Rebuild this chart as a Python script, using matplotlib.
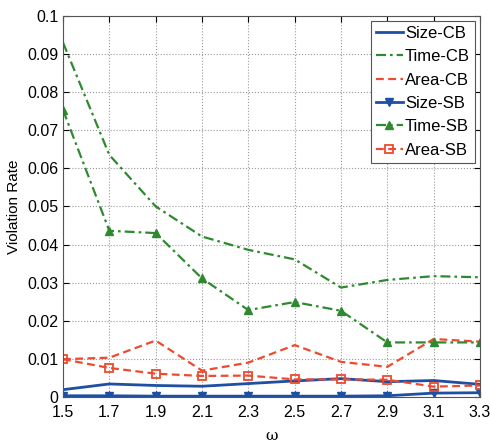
import numpy as np
import matplotlib
matplotlib.use("Agg")
import matplotlib.pyplot as plt

plt.rcParams["font.family"] = ["Liberation Sans", "DejaVu Sans"]

# ── Data ───────────────────────────────────────────────────────────────────
omega = [1.5, 1.7, 1.9, 2.1, 2.3, 2.5, 2.7, 2.9, 3.1, 3.3]

size_cb = [0.0019, 0.0034, 0.0030, 0.0028, 0.0035, 0.0042, 0.0048, 0.0040, 0.0043, 0.0033]
time_cb = [0.0930, 0.0635, 0.0500, 0.0421, 0.0386, 0.0361, 0.0287, 0.0307, 0.0317, 0.0314]
area_cb = [0.0099, 0.0103, 0.0148, 0.0069, 0.0090, 0.0136, 0.0092, 0.0079, 0.0152, 0.0145]
size_sb = [0.0003, 0.0003, 0.0002, 0.0002, 0.0002, 0.0002, 0.0002, 0.0003, 0.0010, 0.0011]
time_sb = [0.0753, 0.0436, 0.0430, 0.0311, 0.0228, 0.0249, 0.0226, 0.0143, 0.0143, 0.0143]
area_sb = [0.0099, 0.0076, 0.0061, 0.0055, 0.0056, 0.0046, 0.0046, 0.0045, 0.0027, 0.0030]

BLUE  = "#1d4fa3"
GREEN = "#2f8a2f"
RED   = "#ee4a2e"
DASH    = (0, (3.5, 2.0))
DASHDOT = (0, (4.5, 1.8, 1.2, 1.8))

fig = plt.figure(figsize=(4.9, 4.42), dpi=100)
ax = fig.add_axes([0.1286, 0.102, 0.851, 0.862])

ax.plot(omega, size_cb, color=BLUE, lw=2.0, ls="-", label="Size-CB")
ax.plot(omega, time_cb, color=GREEN, lw=1.6, ls=DASHDOT, label="Time-CB")
ax.plot(omega, area_cb, color=RED, lw=1.6, ls=DASH, label="Area-CB")
ax.plot(omega, size_sb, color=BLUE, lw=2.0, ls="-", marker="v", ms=6,
        mfc=BLUE, mec=BLUE, label="Size-SB")
ax.plot(omega, time_sb, color=GREEN, lw=1.6, ls=DASHDOT, marker="^", ms=6,
        mfc=GREEN, mec=GREEN, label="Time-SB")
ax.plot(omega, area_sb, color=RED, lw=1.6, ls=DASH, marker="s", ms=6,
        mfc="none", mec=RED, mew=1.3, label="Area-SB")

ax.set_xlim(1.5, 3.3)
ax.set_ylim(0, 0.1)
ax.set_xticks(omega)
ax.set_xticklabels([f"{v:.1f}" for v in omega])
ax.set_yticks(np.arange(0, 0.101, 0.01))
ax.set_yticklabels(["0"] + [f"{v:.2f}" for v in np.arange(0.01, 0.1, 0.01)] + ["0.1"])
ax.tick_params(direction="in", labelsize=11.5, length=4, top=True, right=True)
ax.tick_params(axis="x", pad=6)
ax.grid(True, ls=":", color="#9a9a9a", lw=0.8)
for s in ax.spines.values():
    s.set_color("#555555")

ax.set_ylabel("Violation Rate", fontsize=11)
ax.set_xlabel("ω", fontsize=11, family="DejaVu Serif", labelpad=6)

leg = ax.legend(loc="upper right", fontsize=12, handlelength=1.6,
                handletextpad=0.15, labelspacing=0.5, borderpad=0.3,
                fancybox=False, framealpha=1, borderaxespad=0.3)
leg.get_frame().set_edgecolor("#555555")
leg.get_frame().set_linewidth(0.8)

plt.savefig("out.png", dpi=100)
